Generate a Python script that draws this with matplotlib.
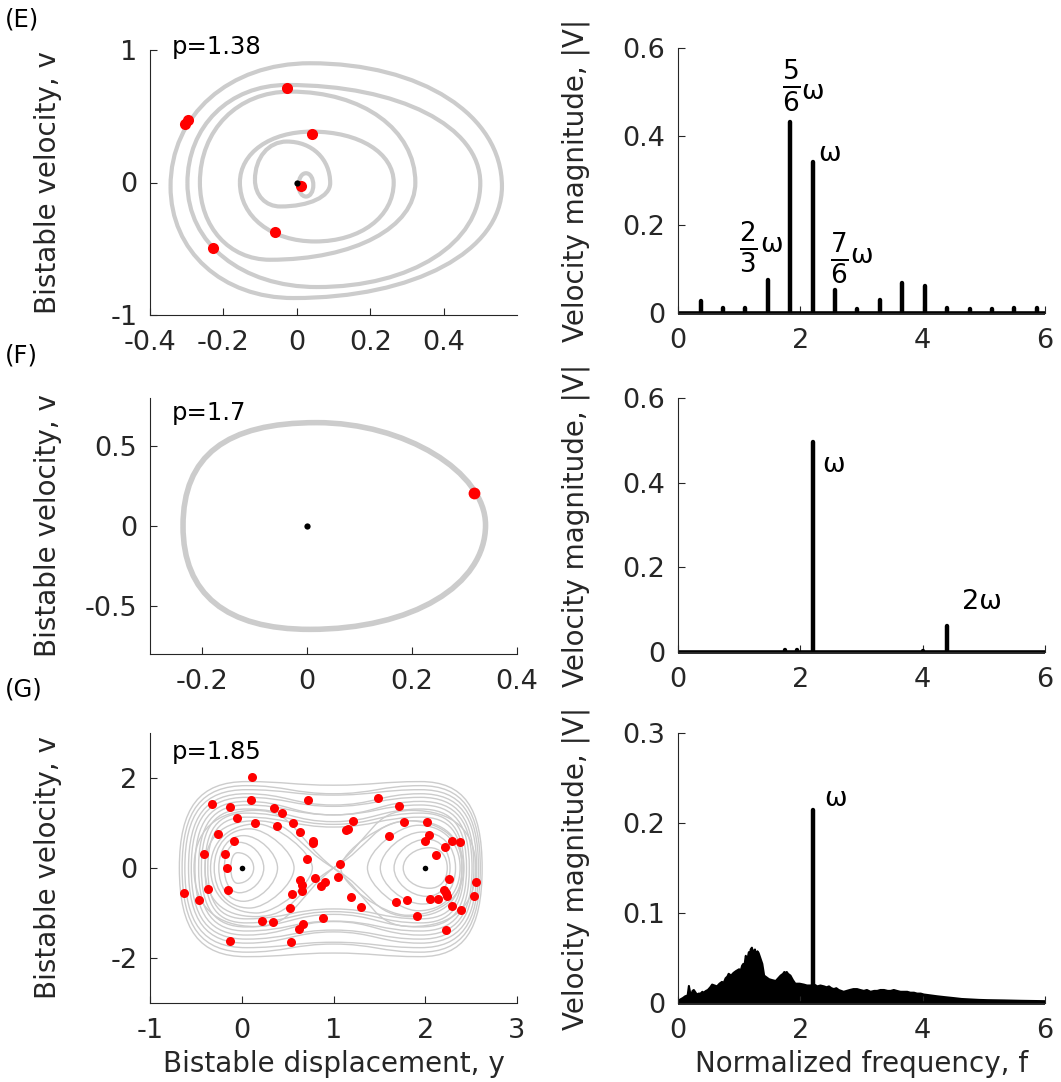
import matplotlib
matplotlib.use("Agg")
import matplotlib.pyplot as plt
from matplotlib.path import Path
from matplotlib.patches import PathPatch

plt.rcParams['font.family'] = ['DejaVu Sans']
plt.rcParams['axes.unicode_minus'] = False
plt.rcParams['mathtext.fontset'] = 'dejavusans'

GRAY = '#cccccc'
RED = '#ff0000'
INK = '#262626'

# ---------------- (E) p = 1.38 : rings of the period-6 orbit ----------------
E_left_x   = [0.005, -0.114, -0.155, -0.264, -0.298, -0.344]
E_left_v   = [-0.02, 0.02, 0.0, 0.0, -0.005, -0.03]
E_top_x    = [0.025, -0.027, 0.041, -0.018, -0.027, 0.036]
E_top_v    = [0.07, 0.309, 0.384, 0.686, 0.736, 0.90]
E_right_x  = [0.045, 0.091, 0.264, 0.323, 0.50, 0.559]
E_right_v  = [-0.02, -0.005, 0.0, 0.0, -0.005, -0.03]
E_bottom_x = [0.025, -0.045, 0.050, -0.073, 0.055, -0.009]
E_bottom_v = [-0.106, -0.181, -0.445, -0.583, -0.789, -0.872]
E_dot_y = [-0.027, 0.041, -0.305, -0.297, -0.059, -0.227, 0.011]
E_dot_v = [0.711, 0.367, 0.44, 0.47, -0.377, -0.495, -0.023]

E_freq = [0.37, 0.73, 1.10, 1.47, 1.83, 2.20, 2.57, 2.93, 3.30, 3.67, 4.03,
          4.40, 4.77, 5.13, 5.50, 5.87]
E_amp = [0.028, 0.011, 0.012, 0.075, 0.433, 0.341, 0.052, 0.010, 0.029, 0.067,
         0.061, 0.012, 0.008, 0.008, 0.011, 0.011]
# fraction labels: (fraction, fraction centre f, fraction v, omega f, omega v)
E_frac_labels = [(r'$\frac{5}{6}$', 1.847, 0.514, 2.010, 0.500),
                 (r'$\frac{2}{3}$', 1.144, 0.149, 1.340, 0.154),
                 (r'$\frac{7}{6}$', 2.632, 0.1245, 2.812, 0.129)]

# ---------------- (F) p = 1.7 : period-1 orbit ----------------
F_left = (-0.237, 0.0)
F_top = (0.018, 0.646)
F_right = (0.340, 0.006)
F_bottom = (0.005, -0.646)
F_dot_y = [0.318]
F_dot_v = [0.205]

F_freq = [1.75, 1.95, 2.20, 4.0, 4.40]
F_amp = [0.005, 0.004, 0.495, 0.003, 0.062]

# ---------------- (G) p = 1.85 : chaotic motion ----------------
GL_xl = [-0.12, -0.19, -0.25, -0.30, -0.34]
GL_xr = [0.13, 0.24, 0.39, 0.57, 0.77]
GL_vt = [0.34, 0.57, 0.72, 0.87, 0.98]
GL_vb = [-0.34, -0.55, -0.74, -0.89, -1.00]

GR_xl = [1.76, 1.66, 1.51, 1.37, 1.08]
GR_xr = [2.24, 2.27, 2.33, 2.38, 2.42]
GR_vt = [0.45, 0.64, 0.80, 0.95, 1.05]
GR_vb = [-0.45, -0.63, -0.80, -0.95, -1.05]

GO_xl = [-0.68, -0.65, -0.62, -0.58, -0.55, -0.51, -0.47, -0.44, -0.40, -0.37]
GO_xr = [2.62, 2.60, 2.58, 2.56, 2.53, 2.51, 2.48, 2.45, 2.42, 2.40]
GO_vt = [1.92, 1.83, 1.74, 1.65, 1.57, 1.48, 1.40, 1.31, 1.22, 1.13]
GO_vb = [-1.97, -1.87, -1.77, -1.67, -1.58, -1.49, -1.40, -1.31, -1.22, -1.13]
GO_waist = [0.08, 0.18, 0.12, 0.25, 0.20, 0.30, 0.22, 0.28, 0.25, 0.22]

# trajectories switching wells through the saddle near y = 1
GX_xl = [-0.52, -0.40]
GX_xr = [2.55, 2.40]
GX_vt = [1.28, 1.05]
GX_vb = [-1.30, -1.08]
GX_slope = [1.6, 1.2]

G_dots = [(0.109, 2.03), (-0.319, 1.416), (-0.127, 1.356), (0.098, 1.513),
          (0.351, 1.341), (0.442, 1.228), (-0.054, 1.116), (0.141, 0.996),
          (0.388, 0.936), (0.562, 1.004), (0.634, 0.794), (0.717, 1.521),
          (-0.264, 0.749), (-0.083, 0.607), (0.772, 0.607), (0.775, 0.554),
          (-0.413, 0.315), (-0.178, 0.322), (-0.163, 0.007), (0.714, 0.195),
          (-0.627, -0.547), (-0.467, -0.704), (-0.370, -0.457), (-0.145, -0.494),
          (0.634, -0.270), (0.656, -0.375), (0.659, -0.517), (0.551, -0.577),
          (0.801, -0.225), (0.859, -0.404), (0.906, -0.315), (0.525, -0.891),
          (0.217, -1.169), (0.341, -1.199), (0.663, -1.236), (0.627, -1.348),
          (0.888, -1.101), (-0.130, -1.618), (0.540, -1.648), (1.076, 0.090),
          (1.054, -0.210), (1.141, 0.839), (1.159, 0.869), (1.214, 1.041),
          (1.188, -0.644), (1.304, -0.861), (1.486, 1.551), (1.710, 1.378),
          (1.764, 1.019), (1.601, 0.704), (2.014, 1.019), (2.040, 0.727),
          (2.000, 0.607), (2.210, 0.464), (2.290, 0.607), (2.377, 0.584),
          (2.120, 0.292), (2.264, -0.247), (2.558, -0.315), (2.203, -0.479),
          (2.228, -0.547), (2.232, -0.629), (2.134, -0.682), (2.047, -0.682),
          (2.536, -0.629), (2.293, -0.839), (2.388, -0.936), (1.681, -0.757),
          (1.804, -0.712), (1.909, -1.071), (2.221, -1.386)]
G_wells = [0.0, 2.0]

G_env_f = [0.0, 0.03, 0.07, 0.11, 0.15, 0.17, 0.19, 0.21, 0.23, 0.25, 0.28, 0.30,
           0.33, 0.36, 0.39, 0.41, 0.45, 0.48, 0.52, 0.55, 0.59, 0.63, 0.67, 0.71,
           0.74, 0.77, 0.80, 0.82, 0.86, 0.90, 0.94, 0.99, 1.02, 1.04, 1.06, 1.08,
           1.10, 1.12, 1.13, 1.15, 1.17, 1.18, 1.20, 1.22, 1.23, 1.25, 1.26, 1.28,
           1.29, 1.31, 1.33, 1.34, 1.37, 1.40, 1.44, 1.48, 1.53, 1.59, 1.63, 1.67,
           1.71, 1.73, 1.75, 1.77, 1.79, 1.83, 1.87, 1.91, 1.98, 2.05, 2.10, 2.16,
           2.22, 2.27, 2.32, 2.38, 2.42, 2.46, 2.50, 2.54, 2.58, 2.62, 2.66, 2.70,
           2.75, 2.80, 2.86, 2.92, 2.97, 3.03, 3.08, 3.14, 3.20, 3.25, 3.30, 3.36,
           3.42, 3.47, 3.52, 3.57, 3.63, 3.68, 3.74, 3.79, 3.85, 3.90, 3.96, 4.01,
           4.12, 4.23, 4.36, 4.50, 4.63, 4.77, 4.91, 5.05, 5.32, 5.59, 5.97, 6.05]
G_env_v = [0.003, 0.0045, 0.006, 0.008, 0.009, 0.0195, 0.012, 0.010, 0.014, 0.015,
           0.012, 0.010, 0.011, 0.011, 0.013, 0.012, 0.014, 0.015, 0.018, 0.021,
           0.020, 0.019, 0.022, 0.024, 0.023, 0.028, 0.030, 0.033, 0.031, 0.034,
           0.036, 0.038, 0.037, 0.042, 0.044, 0.043, 0.053, 0.049, 0.050, 0.057,
           0.055, 0.060, 0.062, 0.056, 0.058, 0.060, 0.055, 0.056, 0.058, 0.056,
           0.052, 0.050, 0.044, 0.031, 0.029, 0.027, 0.026, 0.025, 0.028, 0.031,
           0.033, 0.035, 0.034, 0.035, 0.033, 0.031, 0.026, 0.022, 0.022, 0.021,
           0.020, 0.020, 0.021, 0.019, 0.020, 0.019, 0.018, 0.019, 0.017, 0.016,
           0.017, 0.015, 0.014, 0.013, 0.014, 0.015, 0.016, 0.016, 0.015, 0.014,
           0.015, 0.013, 0.014, 0.014, 0.015, 0.015, 0.014, 0.014, 0.015, 0.014,
           0.013, 0.013, 0.013, 0.012, 0.012, 0.011, 0.011, 0.010, 0.009, 0.008,
           0.007, 0.006, 0.005, 0.0045, 0.004, 0.0037, 0.0034, 0.003, 0.0026, 0.0025]
G_peak_f = [2.21]
G_peak_v = [0.2144]


def smooth_loop(anchors, kappa):
    """Closed Bezier path through anchors (x, v, tangent).

    tangent is 'h' (horizontal), 'v' (vertical) or a slope dv/dx (float)."""
    n = len(anchors)
    verts = [(anchors[0][0], anchors[0][1])]
    codes = [Path.MOVETO]
    for i in range(n):
        x0, v0, d0 = anchors[i]
        x1, v1, d1 = anchors[(i + 1) % n]
        k = kappa[i] if isinstance(kappa, (list, tuple)) else kappa
        dx, dv = x1 - x0, v1 - v0
        if d0 == 'h':
            c1 = (x0 + k * dx, v0)
        elif d0 == 'v':
            c1 = (x0, v0 + k * dv)
        else:
            c1 = (x0 + k * dx, v0 + k * dx * d0)
        if d1 == 'h':
            c2 = (x1 - k * dx, v1)
        elif d1 == 'v':
            c2 = (x1, v1 - k * dv)
        else:
            c2 = (x1 - k * dx, v1 - k * dx * d1)
        verts += [c1, c2, (x1, v1)]
        codes += [Path.CURVE4] * 3
    return Path(verts, codes)


def add_loop(ax, anchors, kappa, lw, color=GRAY):
    ax.add_patch(PathPatch(smooth_loop(anchors, kappa), fill=False,
                           edgecolor=color, linewidth=lw, joinstyle='round'))


def style_axes(ax, xlim, xticks, xlabels, ylim, yticks, ylabels):
    ax.set_xlim(*xlim)
    ax.set_ylim(*ylim)
    ax.set_xticks(xticks)
    ax.set_xticklabels(xlabels)
    ax.set_yticks(yticks)
    ax.set_yticklabels(ylabels)
    for s in ('top', 'right'):
        ax.spines[s].set_visible(False)
    for s in ('left', 'bottom'):
        ax.spines[s].set_color(INK)
        ax.spines[s].set_linewidth(0.8)
    ax.tick_params(direction='in', length=5, width=0.8, colors=INK,
                   labelsize=19.5)
    ax.tick_params(axis='x', pad=11)
    ax.tick_params(axis='y', pad=9)


fig = plt.figure(figsize=(10.61, 10.82), dpi=100)
W, H = 1061.0, 1082.0
LX, RX, AW = 150 / W, 678 / W, 367 / W
rows = [(50, 315), (398, 654), (733, 1003)]


def make_axes(col_x, top, bottom):
    return fig.add_axes([col_x, 1 - bottom / H, AW, (bottom - top) / H])


# ======== (E) ========
axE = make_axes(LX, *rows[0])
for i in range(len(E_left_x)):
    anchors = [(E_left_x[i], E_left_v[i], 'v'), (E_top_x[i], E_top_v[i], 'h'),
               (E_right_x[i], E_right_v[i], 'v'), (E_bottom_x[i], E_bottom_v[i], 'h')]
    add_loop(axE, anchors, 0.58, 3.0)
axE.plot(E_dot_y, E_dot_v, 'o', color=RED, ms=8, mec='none', zorder=3)
axE.plot([0], [0], 'o', color='k', ms=4.5, mec='none', zorder=4)
style_axes(axE, (-0.4, 0.6), [-0.4, -0.2, 0, 0.2, 0.4],
           ['-0.4', '-0.2', '0', '0.2', '0.4'],
           (-1, 1), [-1, 0, 1], ['-1', '0', '1'])
axE.text(0.06, 1.01, 'p=1.38', transform=axE.transAxes, fontsize=17.5,
         ha='left', va='center')

axEs = make_axes(RX, 48, 313)
axEs.vlines(E_freq, 0, E_amp, colors='k', linewidth=3.2, capstyle='round')
axEs.plot([0, 6], [0, 0], color='k', lw=2.6, clip_on=False, solid_capstyle='butt')
style_axes(axEs, (0, 6), [0, 2, 4, 6], ['0', '2', '4', '6'],
           (0, 0.6), [0, 0.2, 0.4, 0.6], ['0', '0.2', '0.4', '0.6'])
for frac, fx, fv, wx, wv in E_frac_labels:
    axEs.text(fx, fv, frac, fontsize=27, ha='center', va='center')
    axEs.text(wx, wv, 'ω', fontsize=19.5, ha='left', va='center')
axEs.text(2.289, 0.360, 'ω', fontsize=19.5, ha='left', va='center')

# ======== (F) ========
axF = make_axes(LX, *rows[1])
anchors = [(F_left[0], F_left[1], 'v'), (F_top[0], F_top[1], 'h'),
           (F_right[0], F_right[1], 'v'), (F_bottom[0], F_bottom[1], 'h')]
add_loop(axF, anchors, [0.68, 0.52, 0.58, 0.66], 4.0)
axF.plot(F_dot_y, F_dot_v, 'o', color=RED, ms=8.5, mec='none', zorder=3)
axF.plot([0], [0], 'o', color='k', ms=4.5, mec='none', zorder=4)
style_axes(axF, (-0.3, 0.4), [-0.2, 0, 0.2, 0.4], ['-0.2', '0', '0.2', '0.4'],
           (-0.8, 0.8), [-0.5, 0, 0.5], ['-0.5', '0', '0.5'])
axF.text(0.06, 0.94, 'p=1.7', transform=axF.transAxes, fontsize=17.5,
         ha='left', va='center')

axFs = make_axes(RX, 398, 652)
axFs.vlines(F_freq, 0, F_amp, colors='k', linewidth=3.2, capstyle='round')
axFs.plot([0, 6], [0, 0], color='k', lw=2.6, clip_on=False, solid_capstyle='butt')
style_axes(axFs, (0, 6), [0, 2, 4, 6], ['0', '2', '4', '6'],
           (0, 0.6), [0, 0.2, 0.4, 0.6], ['0', '0.2', '0.4', '0.6'])
axFs.text(2.354, 0.442, 'ω', fontsize=19.5, ha='left', va='center')
axFs.text(4.64, 0.117, '2ω', fontsize=19.5, ha='left', va='center')

# ======== (G) ========
axG = make_axes(LX, *rows[2])
for i in range(len(GO_xl)):
    vt, vb, w = GO_vt[i], GO_vb[i], GO_waist[i]
    anchors = [(GO_xl[i], 0.0, 'v'), (0.05, vt, 'h'), (1.0, vt - w, 'h'),
               (1.95, vt, 'h'), (GO_xr[i], 0.0, 'v'), (1.95, vb, 'h'),
               (1.0, vb + w, 'h'), (0.05, vb, 'h')]
    add_loop(axG, anchors, [0.7, 0.45, 0.45, 0.7, 0.7, 0.45, 0.45, 0.7], 1.0)
for i in range(len(GX_xl)):
    s = GX_slope[i]
    anchors = [(GX_xl[i], 0.0, 'v'), (0.15, GX_vt[i], 'h'), (1.0, 0.0, -s),
               (1.85, GX_vb[i], 'h'), (GX_xr[i], 0.0, 'v'), (1.85, GX_vt[i], 'h'),
               (1.0, 0.0, s), (0.15, GX_vb[i], 'h')]
    add_loop(axG, anchors, [0.65, 0.5, 0.5, 0.65, 0.65, 0.5, 0.5, 0.65], 1.0)
for i in range(len(GL_xl)):
    xt = 0.5 * (GL_xl[i] + GL_xr[i]) - 0.05
    kr = 0.55 - 0.05 * i
    anchors = [(GL_xl[i], 0.0, 'v'), (xt, GL_vt[i], 'h'),
               (GL_xr[i], 0.0, 'v'), (xt, GL_vb[i], 'h')]
    add_loop(axG, anchors, [0.6, kr, kr, 0.6], 1.0)
for i in range(len(GR_xl)):
    xt = 0.5 * (GR_xl[i] + GR_xr[i]) + 0.05
    kl = 0.55 - 0.05 * i
    anchors = [(GR_xl[i], 0.0, 'v'), (xt, GR_vt[i], 'h'),
               (GR_xr[i], 0.0, 'v'), (xt, GR_vb[i], 'h')]
    add_loop(axG, anchors, [kl, 0.6, 0.6, kl], 1.0)
axG.plot([d[0] for d in G_dots], [d[1] for d in G_dots], 'o', color=RED,
         ms=6.5, mec='none', zorder=3)
axG.plot(G_wells, [0, 0], 'o', color='k', ms=4.0, mec='none', zorder=4)
style_axes(axG, (-1, 3), [-1, 0, 1, 2, 3], ['-1', '0', '1', '2', '3'],
           (-3, 3), [-2, 0, 2], ['-2', '0', '2'])
axG.text(0.06, 0.93, 'p=1.85', transform=axG.transAxes, fontsize=17.5,
         ha='left', va='center')
axG.set_xlabel('Bistable displacement, y', fontsize=20, color=INK)
axG.xaxis.set_label_coords(0.5, -0.175)

axGs = make_axes(RX, *rows[2])
axGs.fill_between(G_env_f, 0, G_env_v, color='k', linewidth=1.5, edgecolor='k')
axGs.vlines(G_peak_f, 0, G_peak_v, colors='k', linewidth=3.2, capstyle='round')
axGs.plot([0, 6], [0, 0], color='k', lw=2.6, clip_on=False, solid_capstyle='butt')
style_axes(axGs, (0, 6), [0, 2, 4, 6], ['0', '2', '4', '6'],
           (0, 0.3), [0, 0.1, 0.2, 0.3], ['0', '0.1', '0.2', '0.3'])
axGs.text(2.387, 0.2267, 'ω', fontsize=19.5, ha='left', va='center')
axGs.set_xlabel('Normalized frequency, f', fontsize=20, color=INK)
axGs.xaxis.set_label_coords(0.5, -0.175)

# axis labels on the left of every panel
for ax in (axE, axF, axG):
    ax.set_ylabel('Bistable velocity, v', fontsize=20, color=INK)
    ax.yaxis.set_label_coords(-0.24, 0.5)
for ax in (axEs, axFs, axGs):
    ax.set_ylabel('Velocity magnitude, |V|', fontsize=20, color=INK)
    ax.yaxis.set_label_coords(-0.24, 0.5)

# panel letters
for letter, y in (('(E)', 20), ('(F)', 355), ('(G)', 690)):
    fig.text(5 / W, 1 - y / H, letter, fontsize=17.5, ha='left', va='center')

fig.savefig('out.png', dpi=100)
